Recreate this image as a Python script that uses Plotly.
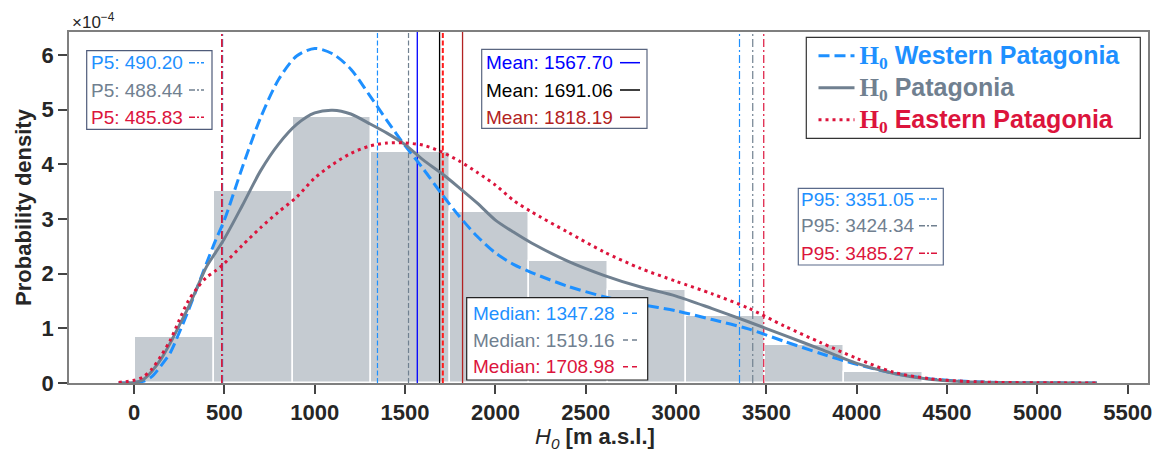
import plotly.graph_objects as go

# ---------------- data ----------------
bin_edges = [5, 441, 877, 1313, 1749, 2185, 2621, 3057, 3493, 3929, 4365]
hist_density_e4 = [0.85, 3.52, 4.86, 4.23, 3.12, 2.23, 1.70, 1.23, 0.69, 0.20]

kde_x = [-85, 0, 50, 100, 150, 200, 250, 300, 350, 400, 450, 500, 600, 700, 800, 900,
         1000, 1100, 1200, 1300, 1400, 1500, 1600, 1700, 1800, 1900, 2000, 2100, 2200,
         2400, 2600, 2800, 3000, 3200, 3400, 3600, 3800, 4000, 4200, 4400, 4600, 4800,
         5000, 5330]
western_e4 = [0.00, 0.01, 0.03, 0.12, 0.32, 0.55, 0.92, 1.32, 1.75, 2.18, 2.60, 2.98, 3.95,
              4.85, 5.55, 5.98, 6.12, 6.02, 5.74, 5.28, 4.80, 4.34, 3.92, 3.47, 3.05, 2.68,
              2.38, 2.17, 2.02, 1.77, 1.58, 1.44, 1.32, 1.16, 0.99, 0.76, 0.54, 0.34, 0.18,
              0.08, 0.03, 0.01, 0.004, 0.0]
patagonia_e4 = [0.00, 0.01, 0.06, 0.22, 0.44, 0.73, 1.05, 1.38, 1.75, 2.12, 2.38, 2.64, 3.25,
                3.88, 4.37, 4.73, 4.94, 4.99, 4.92, 4.75, 4.57, 4.36, 4.08, 3.84, 3.57, 3.29,
                2.98, 2.76, 2.56, 2.23, 1.97, 1.76, 1.59, 1.36, 1.12, 0.87, 0.62, 0.36, 0.18,
                0.07, 0.025, 0.01, 0.004, 0.0]
eastern_e4 = [0.01, 0.05, 0.11, 0.26, 0.50, 0.78, 1.15, 1.50, 1.74, 1.93, 2.05, 2.19, 2.52,
              2.84, 3.13, 3.40, 3.75, 4.00, 4.20, 4.33, 4.39, 4.39, 4.35, 4.23, 4.06, 3.85,
              3.62, 3.34, 3.13, 2.76, 2.40, 2.10, 1.86, 1.63, 1.37, 1.04, 0.74, 0.45, 0.20,
              0.08, 0.03, 0.01, 0.005, 0.0]

series_names = ["Western Patagonia", "Patagonia", "Eastern Patagonia"]
p5_values = [490.20, 488.44, 485.83]
median_values = [1347.28, 1519.16, 1708.98]
mean_values = [1567.70, 1691.06, 1818.19]
p95_values = [3351.05, 3424.34, 3485.27]

x_ticks = [0, 500, 1000, 1500, 2000, 2500, 3000, 3500, 4000, 4500, 5000, 5500]
y_ticks = [0, 1, 2, 3, 4, 5, 6]

# ---------------- style ----------------
C_W, C_P, C_E = "#1E90FF", "#708090", "#DC143C"
group_colors = [C_W, C_P, C_E]
mean_colors = ["#0000FF", "#000000", "#B22222"]
TXT = "#262626"
X_RANGE = [-360, 5612]
Y_RANGE = [0, 6.42]

# plot-area pixel geometry
PL, PT, PR, PB = 69, 32, 1148, 383
PW, PH = PR - PL, PB - PT


def px(x):
    return (x - PL) / PW


def py(y):
    return (PB - y) / PH


fig = go.Figure()

# histogram
centers = [(a + b) / 2 for a, b in zip(bin_edges[:-1], bin_edges[1:])]
widths = [b - a for a, b in zip(bin_edges[:-1], bin_edges[1:])]
fig.add_trace(go.Bar(x=centers, y=hist_density_e4, width=widths,
                     marker=dict(color="#C5CBD1", line=dict(color="white", width=1.5)),
                     showlegend=False, hoverinfo="skip"))

# vertical statistic lines
dd = "8px,3px,2px,3px"


def vline(v, color, dash, width=1.2):
    fig.add_trace(go.Scatter(x=[v, v], y=Y_RANGE, mode="lines",
                             line=dict(color=color, dash=dash, width=width),
                             showlegend=False, hoverinfo="skip"))


for i, (v, c) in enumerate(zip(p5_values, group_colors)):
    vline(v, c, dd, 1.6 if i == 2 else 1.2)
for v, c in zip(p95_values, group_colors):
    vline(v, c, dd)
for i, (v, c) in enumerate(zip(median_values, group_colors)):
    vline(v, "#FF1A1A" if i == 2 else c, "5px,2.5px", 2 if i == 2 else 1.2)
for v, c in zip(mean_values, mean_colors):
    vline(v, c, "solid", 1.3)

# KDE curves
h0 = '<span style="font-family:Liberation Serif">H<sub>0</sub></span>'
curves = [
    (western_e4, C_W, "11px,5px", 3),
    (patagonia_e4, C_P, "solid", 3),
    (eastern_e4, C_E, "3px,4px", 3),
]
for i, (ys, c, dash, w) in enumerate(curves):
    fig.add_trace(go.Scatter(
        x=kde_x, y=ys, mode="lines",
        line=dict(color=c, dash=dash, width=w, shape="spline", smoothing=0.8),
        name=f'<span style="color:{c};font-size:25px">{h0} {series_names[i]}</span>',
        legendgroup=f"g{i}", hoverinfo="skip"))

# ---------------- stat boxes ----------------
shapes = []
annotations = []

# legend frame (legend itself drawn transparent on top)
shapes.append(dict(type="rect", xref="paper", yref="paper", layer="above",
                   x0=px(806.3), x1=px(1140.3), y0=py(138.3), y1=py(37.3),
                   fillcolor="white", line=dict(color="#333333", width=1.2)))

boxes = [
    ("P5", p5_values, group_colors, "6px,2px,2px,2px", (86.7, 50.7, 212, 129.3), 88.5,
     (62.7, 90, 117.3), (189, 204), "#4F5B7A"),
    ("Mean", mean_values, mean_colors, "solid", (481.7, 49.3, 647, 128.3), 484,
     (62.7, 90, 117.3), (620, 640), "#5A6680"),
    ("Median", median_values, group_colors, "5px,4px", (466.7, 297.7, 647.7, 380), 471,
     (313.3, 340, 366.7), (623, 641), "#222222"),
    ("P95", p95_values, group_colors, "6px,2px,2px,2px", (798.3, 188.3, 943.3, 265), 798.5,
     (199, 225.7, 253.3), (919, 937), "#5A6A8A"),
]
for label, vals, cols, dash, (x0, y0, x1, y1), tx, rows, (sx0, sx1), bc in boxes:
    shapes.append(dict(type="rect", xref="paper", yref="paper", layer="above",
                       x0=px(x0), x1=px(x1), y0=py(y1), y1=py(y0),
                       fillcolor="white", line=dict(color=bc, width=1.2)))
    for v, c, ry in zip(vals, cols, rows):
        annotations.append(dict(xref="paper", yref="paper", x=px(tx), y=py(ry),
                                xanchor="left", yanchor="middle", showarrow=False,
                                text=f"{label}: {v:.2f}",
                                font=dict(family="Liberation Sans", size=19, color=c)))
        shapes.append(dict(type="line", xref="paper", yref="paper", layer="above",
                           x0=px(sx0), x1=px(sx1), y0=py(ry), y1=py(ry),
                           line=dict(color=c, width=1.5, dash=dash)))

# axis multiplier and x-axis title
annotations.append(dict(xref="paper", yref="paper", x=px(70), y=py(34), xanchor="left",
                        yanchor="bottom", showarrow=False, text="×10<sup>−4</sup>",
                        font=dict(family="Liberation Sans", size=17, color=TXT)))
annotations.append(dict(xref="paper", yref="paper", x=px(595), y=py(438), xanchor="center",
                        yanchor="middle", showarrow=False,
                        text="<i>H</i><sub><i>0</i></sub> <b>[m a.s.l.]</b>",
                        font=dict(family="Liberation Sans", size=22, color=TXT)))

axis_common = dict(showline=True, mirror=True, linecolor="#7F7F7F", linewidth=1.5,
                   ticks="outside", ticklen=9, tickwidth=1.5, tickcolor="#444444",
                   showgrid=False, zeroline=False, automargin=False,
                   tickfont=dict(family="Liberation Sans", size=22, color=TXT, weight="bold"))

fig.update_layout(
    width=1162, height=456,
    margin=dict(l=PL, r=1162 - PR, t=PT, b=456 - PB),
    paper_bgcolor="white", plot_bgcolor="white",
    xaxis=dict(range=X_RANGE, tickvals=x_ticks, **axis_common),
    yaxis=dict(range=Y_RANGE, tickvals=y_ticks, **axis_common,
               title=dict(text="Probability density", standoff=4,
                          font=dict(family="Liberation Sans", size=22, color=TXT,
                                    weight="bold"))),
    legend=dict(x=px(813.5), y=py(36.3), xanchor="left", yanchor="top",
                bgcolor="rgba(0,0,0,0)", borderwidth=0,
                traceorder="grouped", tracegroupgap=3,
                font=dict(family="Liberation Sans", size=20, weight="bold"),
                itemwidth=36),
    shapes=shapes,
    annotations=annotations,
    bargap=0,
)

fig.write_html("out.html", config={"displayModeBar": False},
               post_script="document.body.style.margin='0px';")
